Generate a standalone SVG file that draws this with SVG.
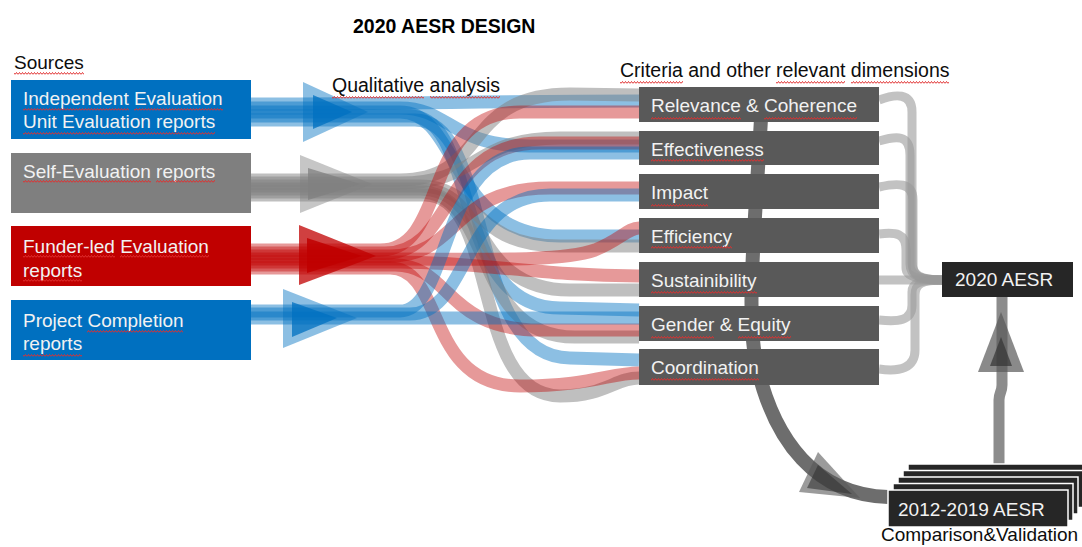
<svg xmlns="http://www.w3.org/2000/svg" width="1082" height="547" viewBox="0 0 1082 547">
  <style>
    text { font-family: "Liberation Sans", Arial, sans-serif; font-size: 19px; }
    .title { font-weight: bold; fill: #000; font-size: 19.5px; }
    .lbl { fill: #0d0d0d; }
    .hdr { font-size: 19.5px; fill: #0d0d0d; }
    .wt { fill: #f2f2f2; }
    .src-blue { fill: #0070c0; }
    .src-gray { fill: #7f7f7f; }
    .src-red { fill: #c00000; }
    .crit { fill: #595959; }
    .out { fill: #262626; stroke: #ffffff; stroke-width: 1.5; }
    .band { fill: none; stroke-width: 13; }
    .b { stroke: #0070c0; stroke-opacity: 0.45; }
    .g { stroke: #808080; stroke-opacity: 0.5; }
    .r { stroke: #c00000; stroke-opacity: 0.4; }
    .loop { fill: none; stroke: #9a9a9a; stroke-opacity: 0.6; stroke-width: 9; }
    .spell { fill: url(#squiggle); }
  </style>
  <defs>
    <pattern id="squiggle" width="3" height="3" patternUnits="userSpaceOnUse">
      <path d="M0,2.5 L1.5,0.5 L3,2.5" fill="none" stroke="#e03030" stroke-width="1"/>
    </pattern>
  </defs>

  <!-- headings -->
  <text class="title" x="353" y="33">2020 AESR DESIGN</text>
  <text class="lbl" x="14" y="69">Sources</text>
  <text class="hdr" x="332" y="92">Qualitative analysis</text>
  <text class="hdr" x="620" y="77">Criteria and other relevant dimensions</text>

  <!-- flows from sources to criteria -->
  <g id="connectors">
    <g id="flows-ieu">
      <path class="band b" d="M251,104 C420,104 480,101 639,101"/>
      <path class="band b" d="M251,108 L400,108 C450,108 450,146 530,146 L639,146"/>
      <path class="band b" d="M251,112 L400,112 C460,112 450,236 560,236 L639,236"/>
      <path class="band b" d="M251,116 L410,116 C480,116 450,308 560,308 L639,310"/>
      <path class="band b" d="M251,120 L415,120 C495,120 465,358 570,358 L639,360"/>
    </g>
    <g id="flows-self">
      <path class="band g" d="M251,180 L400,180 C490,180 460,94 570,94 L639,95"/>
      <path class="band g" d="M251,183 L400,183 C480,183 470,138 560,138 L639,138"/>
      <path class="band g" d="M251,186 L420,186 C480,186 470,246 560,246 L639,246"/>
      <path class="band g" d="M251,189 L420,189 C490,189 470,290 570,290 L639,290"/>
      <path class="band g" d="M251,192 L420,192 C495,192 470,337 575,337 L639,337"/>
      <path class="band g" d="M251,195 L425,195 C500,195 470,396 560,396 C605,396 615,378 639,378"/>
    </g>
    <g id="flows-funder">
      <path class="band r" d="M251,250 L380,250 C450,250 420,112 520,112 L639,112"/>
      <path class="band r" d="M251,253 L385,253 C455,253 440,143 540,143 L639,143"/>
      <path class="band r" d="M251,256 L390,256 C460,256 450,188 550,188 L639,188"/>
      <path class="band r" d="M251,259 L400,259 C480,259 560,262 595,250 C620,240 628,228 639,228"/>
      <path class="band r" d="M251,262 L400,262 C480,262 540,276 639,276"/>
      <path class="band r" d="M251,265 L395,265 C450,265 445,330 540,330 L639,330"/>
      <path class="band r" d="M251,268 L390,268 C445,268 425,386 520,386 C590,386 610,373 639,373"/>
    </g>
    <g id="flows-pcr">
      <path class="band b" d="M251,311 L400,311 C450,311 440,153 530,153 L639,153"/>
      <path class="band b" d="M251,314 L410,314 C470,314 460,195 550,195 L639,195"/>
      <path class="band b" d="M251,318 C400,318 500,318 639,318"/>
    </g>

    <!-- arrowheads on the source flows -->
    <g id="heads">
      <polygon points="303,82 303,142 368,112" fill="#0070c0" fill-opacity="0.45"/>
      <polygon points="313,95 313,129 352,112" fill="#0070c0" fill-opacity="0.75"/>
      <polygon points="300,155 300,213 372,184" fill="#808080" fill-opacity="0.45"/>
      <polygon points="308,168 308,200 360,184" fill="#808080" fill-opacity="0.75"/>
      <polygon points="299,225 299,285 376,256" fill="#c00000" fill-opacity="0.75"/>
      <polygon points="307,238 307,273 362,256" fill="#c00000" fill-opacity="0.85"/>
      <polygon points="283,289 283,348 357,318" fill="#0070c0" fill-opacity="0.45"/>
      <polygon points="292,302 292,337 337,318" fill="#0070c0" fill-opacity="0.75"/>
    </g>

    <!-- criteria merging into the 2020 report -->
    <g id="merge">
      <path class="loop" d="M879,100 C895,94 912,92 912,112 L912,262 C912,275 920,280 942,280"/>
      <path class="loop" d="M879,141 C896,136 910,134 910,155 L910,264 C910,276 920,280 942,280"/>
      <path class="loop" d="M879,187 C897,183 913,182 913,200 L913,266 C913,276 920,280 942,280"/>
      <path class="loop" d="M879,234 C896,232 906,233 906,250 L906,268 C906,277 920,280 942,280"/>
      <path class="loop" d="M879,280 L942,280"/>
      <path class="loop" d="M879,320 C898,322 912,321 912,305 L912,292 C912,283 920,280 942,280"/>
      <path class="loop" d="M879,369 C900,372 915,368 915,350 L915,295 C915,284 922,280 942,280"/>
    </g>

    <!-- criteria to earlier reports -->
    <path id="to-history" d="M762,100 C756,220 744,320 758,370 C775,440 815,495 888,497" fill="none" stroke="#595959" stroke-opacity="0.88" stroke-width="14"/>
    <polygon points="818,452 799,492 860,498" fill="#595959" fill-opacity="0.6"/>
    <polygon points="818,465 807,488 852,494" fill="#333333" fill-opacity="0.6"/>

    <!-- earlier reports validating the 2020 report -->
    <path id="to-2020" d="M999,464 L999,400 C999,393 1002,392 1002,385 L1002,297" fill="none" stroke="#7f7f7f" stroke-opacity="0.9" stroke-width="11"/>
    <polygon points="978,372 1024,372 1001,312" fill="#595959" fill-opacity="0.7"/>
    <polygon points="990,366 1012,366 1001,337" fill="#333333" fill-opacity="0.7"/>
  </g>

  <!-- sources -->
  <g id="src-ieu">
    <rect class="src-blue" x="11" y="80" width="240" height="59"/>
    <text class="wt" x="23" y="105">Independent Evaluation</text>
    <text class="wt" x="23" y="128">Unit Evaluation reports</text>
    <rect class="spell" x="23" y="108" width="106" height="3"/>
    <rect class="spell" x="134" y="108" width="89" height="3"/>
    <rect class="spell" x="23" y="132" width="192" height="3"/>
  </g>
  <g id="src-self">
    <rect class="src-gray" x="11" y="153" width="240" height="60"/>
    <text class="wt" x="23" y="178">Self-Evaluation reports</text>
    <rect class="spell" x="23" y="180" width="128" height="3"/>
    <rect class="spell" x="156" y="180" width="59" height="3"/>
  </g>
  <g id="src-funder">
    <rect class="src-red" x="11" y="226" width="240" height="60"/>
    <text class="wt" x="23" y="253">Funder-led Evaluation</text>
    <text class="wt" x="23" y="277">reports</text>
    <rect class="spell" x="23" y="255" width="92" height="3"/>
    <rect class="spell" x="120" y="255" width="89" height="3"/>
    <rect class="spell" x="23" y="279" width="59" height="3"/>
  </g>
  <g id="src-pcr">
    <rect class="src-blue" x="11" y="300" width="240" height="60"/>
    <text class="wt" x="23" y="327">Project Completion</text>
    <text class="wt" x="23" y="350">reports</text>
    <rect class="spell" x="87" y="330" width="96" height="3"/>
    <rect class="spell" x="23" y="354" width="59" height="3"/>
  </g>

  <!-- heading spell marks -->
  <rect class="spell" x="14" y="72" width="70" height="3"/>
  <rect class="spell" x="332" y="96" width="92" height="3"/>
  <rect class="spell" x="430" y="96" width="70" height="3"/>
  <rect class="spell" x="620" y="81" width="63" height="3"/>
  <rect class="spell" x="776" y="81" width="69" height="3"/>
  <rect class="spell" x="851" y="81" width="98" height="3"/>

  <!-- criteria -->
  <g id="crit-relevance">
    <rect class="crit" x="639" y="87" width="240" height="35"/>
    <text class="wt" x="651" y="112">Relevance &amp; Coherence</text>
    <rect class="spell" x="651" y="117" width="90" height="3"/>
    <rect class="spell" x="764" y="117" width="93" height="3"/>
  </g>
  <g id="crit-effectiveness">
    <rect class="crit" x="639" y="131" width="240" height="34"/>
    <text class="wt" x="651" y="156">Effectiveness</text>
    <rect class="spell" x="651" y="159" width="113" height="3"/>
  </g>
  <g id="crit-impact">
    <rect class="crit" x="639" y="174" width="240" height="35"/>
    <text class="wt" x="651" y="199">Impact</text>
    <rect class="spell" x="651" y="204" width="57" height="3"/>
  </g>
  <g id="crit-efficiency">
    <rect class="crit" x="639" y="218" width="240" height="35"/>
    <text class="wt" x="651" y="243">Efficiency</text>
    <rect class="spell" x="651" y="246" width="81" height="3"/>
  </g>
  <g id="crit-sustainability">
    <rect class="crit" x="639" y="262" width="240" height="35"/>
    <text class="wt" x="651" y="287">Sustainibility</text>
    <rect class="spell" x="651" y="291" width="106" height="3"/>
  </g>
  <g id="crit-gender">
    <rect class="crit" x="639" y="306" width="240" height="35"/>
    <text class="wt" x="651" y="331">Gender &amp; Equity</text>
    <rect class="spell" x="651" y="336" width="63" height="3"/>
    <rect class="spell" x="738" y="336" width="53" height="3"/>
  </g>
  <g id="crit-coordination">
    <rect class="crit" x="639" y="349" width="240" height="36"/>
    <text class="wt" x="651" y="374">Coordination</text>
    <rect class="spell" x="651" y="378" width="108" height="3"/>
  </g>

  <!-- outputs -->
  <g id="aesr-2020">
    <rect x="942" y="262" width="131" height="35" fill="#262626"/>
    <text class="wt" x="955" y="286">2020 AESR</text>
  </g>
  <g id="aesr-2012-2019">
    <rect class="out" x="908" y="464" width="180" height="37"/>
    <rect class="out" x="903" y="470.5" width="180" height="37"/>
    <rect class="out" x="898" y="477" width="180" height="37"/>
    <rect class="out" x="893" y="483.5" width="180" height="37"/>
    <rect class="out" x="888" y="490" width="180" height="37"/>
    <text class="wt" x="898" y="516">2012-2019 AESR</text>
    <text class="lbl" x="881" y="541">Comparison&amp;Validation</text>
  </g>
</svg>
